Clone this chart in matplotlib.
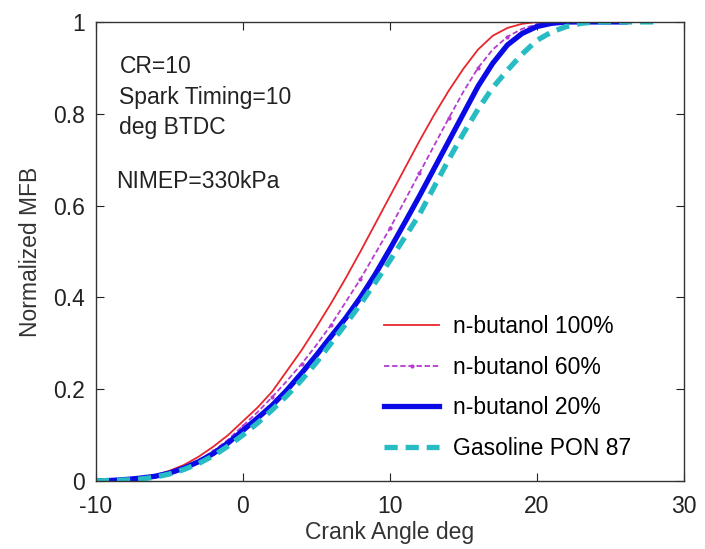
import matplotlib
matplotlib.use("Agg")
import matplotlib.pyplot as plt

plt.rcParams['font.family'] = ['Liberation Sans', 'DejaVu Sans']
plt.rcParams['axes.unicode_minus'] = False

# crank angle (deg) and normalized mass fraction burned
ca_b100 = [-10, -9, -8, -7, -6, -5, -4, -3, -2, -1, 0, 1, 2, 3, 4, 5, 6, 7, 8, 9,
           10, 11, 12, 13, 14, 15, 16, 17, 18, 19, 20, 22]
mfb_b100 = [0, 0.001, 0.003, 0.006, 0.012, 0.022, 0.035, 0.053, 0.075, 0.10, 0.13,
            0.16, 0.195, 0.24, 0.285, 0.335, 0.387, 0.442, 0.50, 0.56, 0.62, 0.68,
            0.74, 0.797, 0.85, 0.898, 0.94, 0.97, 0.987, 0.996, 1.0, 1.0]

ca_b60 = [-10, -9, -8, -7, -6, -5, -4, -3, -2, -1, 0, 1, 2, 3, 4, 5, 6, 7, 8, 9,
          10, 11, 12, 13, 14, 15, 16, 17, 18, 19, 20, 21, 22, 24]
mfb_b60 = [0, 0.001, 0.003, 0.006, 0.01, 0.018, 0.03, 0.045, 0.065, 0.09, 0.12,
           0.15, 0.183, 0.218, 0.255, 0.296, 0.34, 0.39, 0.44, 0.495, 0.55, 0.61,
           0.67, 0.73, 0.79, 0.848, 0.90, 0.94, 0.968, 0.985, 0.995, 0.999, 1.0, 1.0]

ca_b20 = [-10, -9, -8, -7, -6, -5, -4, -3, -2, -1, 0, 1, 2, 3, 4, 5, 6, 7, 8, 9,
          10, 11, 12, 13, 14, 15, 16, 17, 18, 19, 20, 21, 22, 26]
mfb_b20 = [0, 0.001, 0.003, 0.006, 0.01, 0.017, 0.028, 0.042, 0.06, 0.083, 0.11,
           0.137, 0.165, 0.198, 0.235, 0.274, 0.315, 0.355, 0.40, 0.45, 0.505, 0.562,
           0.62, 0.68, 0.74, 0.80, 0.86, 0.91, 0.95, 0.975, 0.99, 0.997, 1.0, 1.0]

ca_gas = [-10, -9, -8, -7, -6, -5, -4, -3, -2, -1, 0, 1, 2, 3, 4, 5, 6, 7, 8, 9,
          10, 11, 12, 13, 14, 15, 16, 17, 18, 19, 20, 21, 22, 23, 24, 28]
mfb_gas = [0, 0.001, 0.002, 0.004, 0.008, 0.015, 0.025, 0.038, 0.055, 0.076, 0.10,
           0.126, 0.155, 0.186, 0.22, 0.258, 0.30, 0.342, 0.385, 0.432, 0.48, 0.53,
           0.58, 0.64, 0.70, 0.757, 0.81, 0.857, 0.895, 0.93, 0.96, 0.978, 0.99,
           0.997, 1.0, 1.0]

labels = ['n-butanol 100%', 'n-butanol 60%', 'n-butanol 20%', 'Gasoline PON 87']

fig = plt.figure(figsize=(7.05, 5.49), dpi=100)
ax = fig.add_axes([0.136, 0.124, 0.834, 0.836])

ax.plot(ca_b100, mfb_b100, color='#e8262c', lw=1.3, label=labels[0])
ax.plot(ca_b60, mfb_b60, color='#b63ccf', lw=1.3, ls=(0, (3, 1.5)),
        marker='.', ms=4, markevery=2, label=labels[1])
ax.plot(ca_b20, mfb_b20, color='#0a0ae6', lw=3.8, label=labels[2])
ax.plot(ca_gas, mfb_gas, color='#27bcc4', lw=3.8, ls=(0, (2.5, 1.5)), label=labels[3])

ax.set_xlim(-10, 30)
ax.set_ylim(0, 1)
ax.set_xticks([-10, 0, 10, 20, 30])
ax.set_yticks([0, 0.2, 0.4, 0.6, 0.8, 1])
ax.set_yticklabels(['0', '0.2', '0.4', '0.6', '0.8', '1'])
ax.tick_params(direction='in', top=True, right=True, length=6, labelsize=16.5,
               colors='#222222')
ax.tick_params(axis='x', pad=10)
ax.tick_params(axis='y', pad=8)
for s in ax.spines.values():
    s.set_color('#333333')
    s.set_linewidth(1.0)

ax.set_xlabel('Crank Angle deg', fontsize=16.5, color='#333333', labelpad=2)
ax.set_ylabel('Normalized MFB', fontsize=16.5, color='#333333', labelpad=8)

ax.text(-8.4, 0.927, 'CR=10\nSpark Timing=10\ndeg BTDC', fontsize=16.5,
        va='top', ha='left', color='#222222', linespacing=1.4)
ax.text(-8.6, 0.628, 'NIMEP=330kPa', fontsize=16.5, va='bottom', ha='left',
        color='#222222')

ax.legend(loc='lower right', frameon=False, fontsize=16.5, handlelength=2.4,
          labelspacing=0.78, handletextpad=0.6, bbox_to_anchor=(0.945, 0.0))

fig.savefig('out.png', dpi=100)
